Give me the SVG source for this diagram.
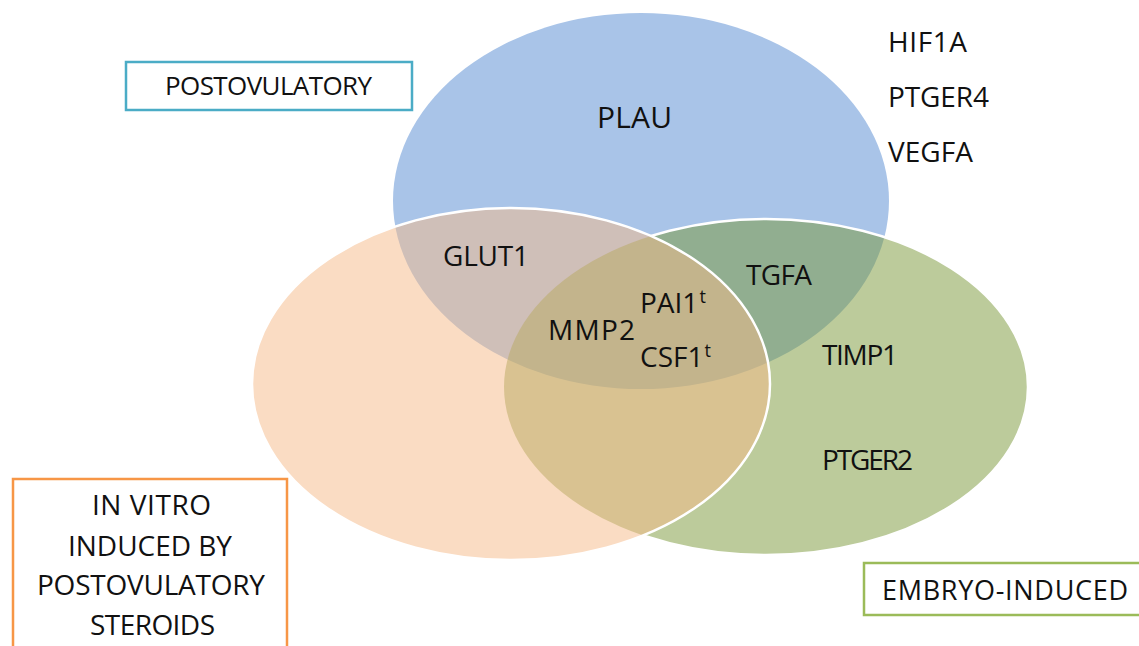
<svg xmlns="http://www.w3.org/2000/svg" width="1139" height="646" viewBox="0 0 1139 646">
  <style>
    .lbl { font-family: "Open Sans", "Noto Sans", "Liberation Sans", sans-serif; fill: #111111; }
    .gene { font-size: 28px; }
    .sup { font-size: 18px; }
    .box { fill: #ffffff; stroke-width: 2.5; }
    .edge { fill: none; stroke: #ffffff; stroke-width: 2.5; }
  </style>
  <defs>
    <!-- hides the green outline where the orange set lies over it -->
    <mask id="outsideOrange" maskUnits="userSpaceOnUse" x="0" y="0" width="1139" height="646">
      <rect x="0" y="0" width="1139" height="646" fill="#ffffff"/>
      <ellipse cx="511" cy="384" rx="259" ry="176" fill="#000000"/>
    </mask>
  </defs>
  <rect width="1139" height="646" fill="#ffffff"/>

  <!-- Venn sets -->
  <g id="set-postovulatory">
    <ellipse cx="641" cy="201" rx="248" ry="188" fill="#a9c4e8"/>
  </g>
  <g id="set-embryo">
    <ellipse cx="766" cy="387" rx="262" ry="168" fill="#799737" fill-opacity="0.5"/>
    <ellipse class="edge" cx="766" cy="387" rx="262" ry="168" mask="url(#outsideOrange)"/>
  </g>
  <g id="set-invitro">
    <ellipse cx="511" cy="384" rx="259" ry="176" fill="#f5b987" fill-opacity="0.5"/>
    <ellipse class="edge" cx="511" cy="384" rx="259" ry="176"/>
  </g>

  <!-- gene labels -->
  <g id="genes">
    <text class="lbl" x="597" y="128" font-size="30" textLength="75">PLAU</text>
    <text class="lbl gene" x="888" y="52" textLength="79">HIF1A</text>
    <text class="lbl gene" x="888" y="107" textLength="101">PTGER4</text>
    <text class="lbl gene" x="888" y="162" textLength="85">VEGFA</text>
    <text class="lbl gene" x="443" y="266" textLength="86">GLUT1</text>
    <text class="lbl gene" x="746" y="285" textLength="66">TGFA</text>
    <text class="lbl gene" x="548" y="340" textLength="87">MMP2</text>
    <text class="lbl gene" x="640" y="313">PAI1<tspan class="sup" dx="1" dy="-10">t</tspan></text>
    <text class="lbl gene" x="640" y="367">CSF1<tspan class="sup" dx="1" dy="-10">t</tspan></text>
    <text class="lbl gene" x="822" y="365" textLength="76">TIMP1</text>
    <text class="lbl gene" x="822" y="470" textLength="91">PTGER2</text>
  </g>

  <!-- legend boxes -->
  <g id="legend-postovulatory">
    <rect class="box" x="126" y="62" width="286" height="48" stroke="#4bacc6"/>
    <text class="lbl" x="165" y="95" font-size="26" textLength="207">POSTOVULATORY</text>
  </g>
  <g id="legend-invitro">
    <rect class="box" x="13" y="479" width="274" height="190" stroke="#f79646"/>
    <text class="lbl" font-size="28">
      <tspan x="92" y="515" textLength="119">IN VITRO</tspan>
      <tspan x="68" y="556" textLength="164">INDUCED BY</tspan>
      <tspan x="37" y="595" textLength="228">POSTOVULATORY</tspan>
      <tspan x="90" y="635" textLength="125">STEROIDS</tspan>
    </text>
  </g>
  <g id="legend-embryo">
    <rect class="box" x="864" y="563" width="290" height="52" stroke="#9bbb59"/>
    <text class="lbl" x="882" y="600" font-size="27" textLength="246">EMBRYO-INDUCED</text>
  </g>
</svg>
